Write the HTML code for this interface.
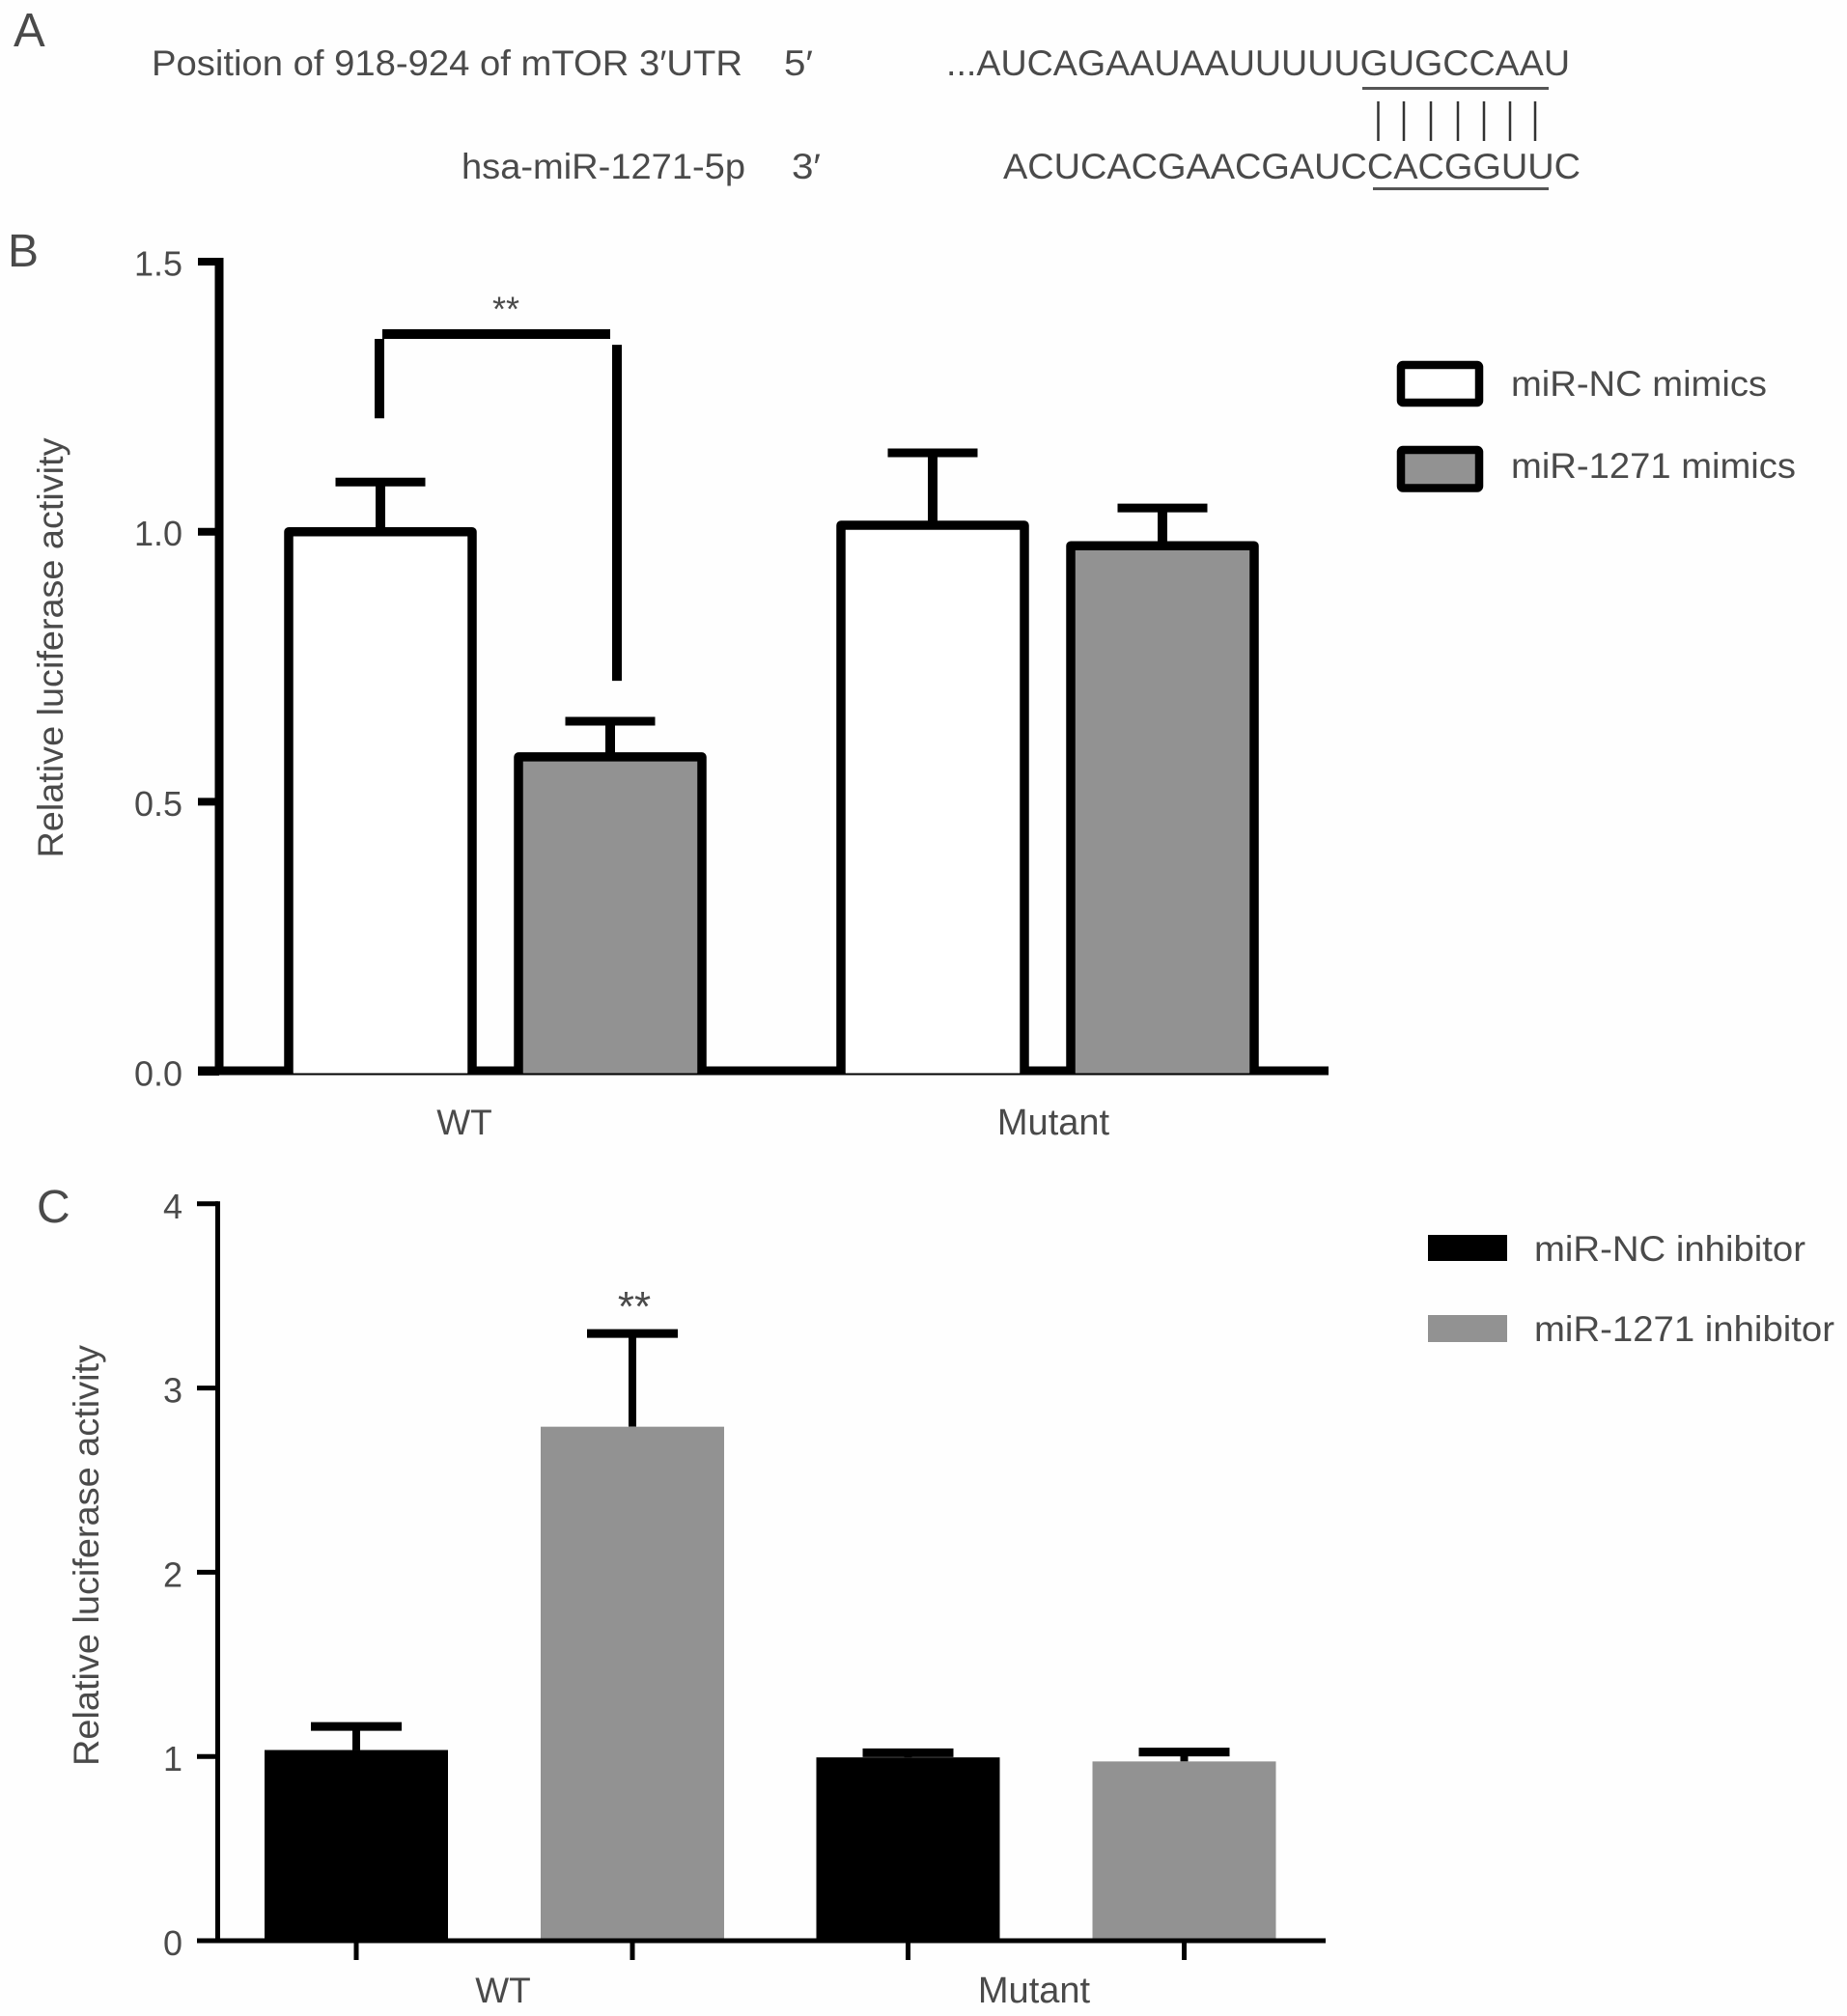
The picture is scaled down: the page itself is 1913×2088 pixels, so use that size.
<!DOCTYPE html>
<html lang="en">
<head>
<meta charset="utf-8">
<title>Luciferase reporter assay figure</title>
<style>
  html, body { margin: 0; padding: 0; background: #fefefe; }
  #figure { display: block; width: 1913px; height: 2088px; background: #fefefe; }
  text { font-family: "Liberation Sans", "DejaVu Sans", sans-serif; fill: #4a4a4a; }
</style>
</head>
<body>
<svg id="figure" xmlns="http://www.w3.org/2000/svg" width="1913" height="2088" viewBox="0 0 1913 2088">

  <g id="panel-a">
    <text x="14" y="48" font-size="49">A</text>
    <text x="157" y="78" font-size="37" textLength="612" lengthAdjust="spacingAndGlyphs">Position of 918-924 of mTOR 3′UTR</text>
    <text x="812" y="78" font-size="37" textLength="30" lengthAdjust="spacingAndGlyphs">5′</text>
    <text x="980" y="78" font-size="37" textLength="646" lengthAdjust="spacingAndGlyphs">...AUCAGAAUAAUUUUUGUGCCAAU</text>
    <rect x="1411" y="90" width="193" height="3" fill="#555"></rect>
    <g stroke="#333" stroke-width="2.5">
      <line x1="1427.5" y1="105" x2="1427.5" y2="146"></line>
      <line x1="1454" y1="105" x2="1454" y2="146"></line>
      <line x1="1482" y1="105" x2="1482" y2="146"></line>
      <line x1="1510" y1="105" x2="1510" y2="146"></line>
      <line x1="1537" y1="105" x2="1537" y2="146"></line>
      <line x1="1564" y1="105" x2="1564" y2="146"></line>
      <line x1="1590" y1="105" x2="1590" y2="146"></line>
    </g>
    <text x="478" y="185" font-size="37" textLength="294" lengthAdjust="spacingAndGlyphs">hsa-miR-1271-5p</text>
    <text x="820" y="185" font-size="37" textLength="30" lengthAdjust="spacingAndGlyphs">3′</text>
    <text x="1039" y="185" font-size="37" textLength="598" lengthAdjust="spacingAndGlyphs">ACUCACGAACGAUCCACGGUUC</text>
    <rect x="1422" y="194" width="182" height="3" fill="#555"></rect>
  </g>

  <g id="panel-b">
    <text x="8" y="276" font-size="48">B</text>
    <text transform="translate(65 671) rotate(-90)" text-anchor="middle" font-size="37" textLength="435" lengthAdjust="spacingAndGlyphs">Relative luciferase activity</text>
    <g id="panel-b-marks"></g>
    <g>
      <rect x="1451" y="378" width="81" height="39" rx="2" fill="#ffffff" stroke="#000" stroke-width="8.5"></rect>
      <text x="1565" y="410" font-size="37" textLength="265" lengthAdjust="spacingAndGlyphs">miR-NC mimics</text>
      <rect x="1451" y="466" width="81" height="39.5" rx="2" fill="#929292" stroke="#000" stroke-width="8.5"></rect>
      <text x="1565" y="495" font-size="37" textLength="295" lengthAdjust="spacingAndGlyphs">miR-1271 mimics</text>
    </g>
  </g>

  <g id="panel-c">
    <text x="38" y="1266" font-size="48">C</text>
    <text transform="translate(102 1611) rotate(-90)" text-anchor="middle" font-size="37" textLength="436" lengthAdjust="spacingAndGlyphs">Relative luciferase activity</text>
    <g id="panel-c-marks"></g>
    <g>
      <rect x="1479" y="1279" width="82" height="27" fill="#000"></rect>
      <text x="1589" y="1306" font-size="37" textLength="281" lengthAdjust="spacingAndGlyphs">miR-NC inhibitor</text>
      <rect x="1479" y="1362" width="82" height="28" fill="#929292"></rect>
      <text x="1589" y="1389" font-size="37" textLength="311" lengthAdjust="spacingAndGlyphs">miR-1271 inhibitor</text>
    </g>
  </g>
</svg>

<script>
// Shared categories
const categories = ['WT', 'Mutant'];

// Panel B data
const mimicsControlValues = [1.0, 1.012];
const mimicsControlErrors = [0.092, 0.134];
const mimicsTreatedValues = [0.583, 0.974];
const mimicsTreatedErrors = [0.066, 0.07];
const mimicsTickValues = [0, 0.5, 1.0, 1.5];
const mimicsTickLabels = ['0.0', '0.5', '1.0', '1.5'];
const mimicsBracketLevels = [1.366, 1.21, 1.346, 0.724];
const mimicsStarsLevel = 1.417;
const mimicsStars = '**';

// Panel C data
const inhibitorControlValues = [1.035, 0.995];
const inhibitorControlErrors = [0.128, 0.025];
const inhibitorTreatedValues = [2.79, 0.973];
const inhibitorTreatedErrors = [0.506, 0.051];
const inhibitorTickValues = [0, 1, 2, 3, 4];
const inhibitorTickLabels = ['0', '1', '2', '3', '4'];
const inhibitorStarsLevel = 3.47;
const inhibitorStars = '**';

const SVG_NS = 'http://www.w3.org/2000/svg';

function shape(parent, tag, attrs) {
  const el = document.createElementNS(SVG_NS, tag);
  for (const key in attrs) el.setAttribute(key, attrs[key]);
  parent.appendChild(el);
  return el;
}

function hLine(parent, x1, x2, y, width) {
  return shape(parent, 'line', { x1: x1, x2: x2, y1: y, y2: y, stroke: '#000', 'stroke-width': width });
}

function vLine(parent, x, y1, y2, width) {
  return shape(parent, 'line', { x1: x, x2: x, y1: y1, y2: y2, stroke: '#000', 'stroke-width': width });
}

function label(parent, x, y, size, anchor, content) {
  const el = shape(parent, 'text', { x: x, y: y, 'font-size': size, 'text-anchor': anchor });
  el.textContent = content;
  return el;
}

/* ---------- Panel B ---------- */
const bMarks = document.getElementById('panel-b-marks');
const bY = function (v) { return 1110 - v * 559.3; };
const bGroupX = function (g) { return 513 + g * 572; };
const bBarX = function (g, s) { return bGroupX(g) + (s - 0.5) * 238; };
const B_HALF = 95;
const B_CAP_HALF = 46.5;

mimicsTickValues.forEach(function (v, i) {
  const tick = hLine(bMarks, 205, 227, bY(v), 8);
  
  
  const tickLabel = label(bMarks, 189, bY(v) + 14.5, 36, 'end', mimicsTickLabels[i]);
  
  
});

const bYAxis = vLine(bMarks, 227, bY(1.5) - 4, bY(0) + 3.5, 9);



const bXAxis = hLine(bMarks, 205, 1376, bY(0) - 1, 9);



function drawOutlinedBar(g, s, value, error, fill, seriesName) {
  const cx = bBarX(g, s);
  const top = bY(value);
  const bottom = bY(0) + 1.5;
  const capY = bY(value + error);
  const stem = vLine(bMarks, cx, capY, top, 10);
  
  
  const cap = hLine(bMarks, cx - B_CAP_HALF, cx + B_CAP_HALF, capY, 9);
  
  
  const body = shape(bMarks, 'rect', { x: cx - B_HALF, y: top, width: B_HALF * 2, height: bottom - top, fill: fill });
  
  
  const outline = shape(bMarks, 'path', {
    d: 'M' + (cx - B_HALF) + ' ' + bottom + 'V' + top + 'H' + (cx + B_HALF) + 'V' + bottom,
    fill: 'none', stroke: '#000', 'stroke-width': 9.5, 'stroke-linejoin': 'round'
  });
  
  
}

categories.forEach(function (name, g) {
  drawOutlinedBar(g, 0, mimicsControlValues[g], mimicsControlErrors[g], '#ffffff', 'mir-nc-mimics');
  drawOutlinedBar(g, 1, mimicsTreatedValues[g], mimicsTreatedErrors[g], '#929292', 'mir-1271-mimics');
  const catLabel = label(bMarks, g === 0 ? 481 : 1091, 1175, g === 0 ? 37 : 38, 'middle', name);
  
  
});

const bracketTop = hLine(bMarks, bBarX(0, 0) + 2, bBarX(0, 1), bY(mimicsBracketLevels[0]), 10);


const bracketLeft = vLine(bMarks, bBarX(0, 0) - 1, bY(mimicsBracketLevels[0]) + 5, bY(mimicsBracketLevels[1]), 10);


const bracketRight = vLine(bMarks, bBarX(0, 1) + 7, bY(mimicsBracketLevels[2]), bY(mimicsBracketLevels[3]), 10);


const bStars = label(bMarks, (bBarX(0, 0) + bBarX(0, 1)) / 2 + 11, bY(mimicsStarsLevel) + 15, 36, 'middle', mimicsStars);



/* ---------- Panel C ---------- */
const cMarks = document.getElementById('panel-c-marks');
const cY = function (v) { return 2010 - v * 190.8; };
const cGroupX = function (g) { return 512 + g * 571.5; };
const cBarX = function (g, s) { return cGroupX(g) + (s - 0.5) * 286; };
const C_HALF = 95;
const C_CAP_HALF = 47;

inhibitorTickValues.forEach(function (v, i) {
  const tick = hLine(cMarks, 204, 226, cY(v), 5);
  
  
  const tickLabel = label(cMarks, 189, cY(v) + 15, 36, 'end', inhibitorTickLabels[i]);
  
  
});

const cYAxis = vLine(cMarks, 225.5, cY(4) - 2.5, cY(0) + 2.5, 5);



function drawSolidBar(g, s, value, error, fill, seriesName) {
  const cx = cBarX(g, s);
  const top = cY(value);
  const capY = cY(value + error);
  const stem = vLine(cMarks, cx, capY, top, 8);
  
  
  const cap = hLine(cMarks, cx - C_CAP_HALF, cx + C_CAP_HALF, capY, 9);
  
  
  const body = shape(cMarks, 'rect', { x: cx - C_HALF, y: top, width: C_HALF * 2, height: cY(0) - top, fill: fill });
  
  
  const tick = vLine(cMarks, cx, cY(0), cY(0) + 20, 5);
  
  
}

categories.forEach(function (name, g) {
  drawSolidBar(g, 0, inhibitorControlValues[g], inhibitorControlErrors[g], '#000000', 'mir-nc-inhibitor');
  drawSolidBar(g, 1, inhibitorTreatedValues[g], inhibitorTreatedErrors[g], '#929292', 'mir-1271-inhibitor');
  const catLabel = label(cMarks, g === 0 ? 521 : 1071, 2074, g === 0 ? 37 : 38, 'middle', name);
  
  
});

const cXAxis = hLine(cMarks, 204, 1373, cY(0), 5);



const cStars = label(cMarks, cBarX(0, 1) + 2, cY(inhibitorStarsLevel) + 20, 44, 'middle', inhibitorStars);


</script>
</body>
</html>
